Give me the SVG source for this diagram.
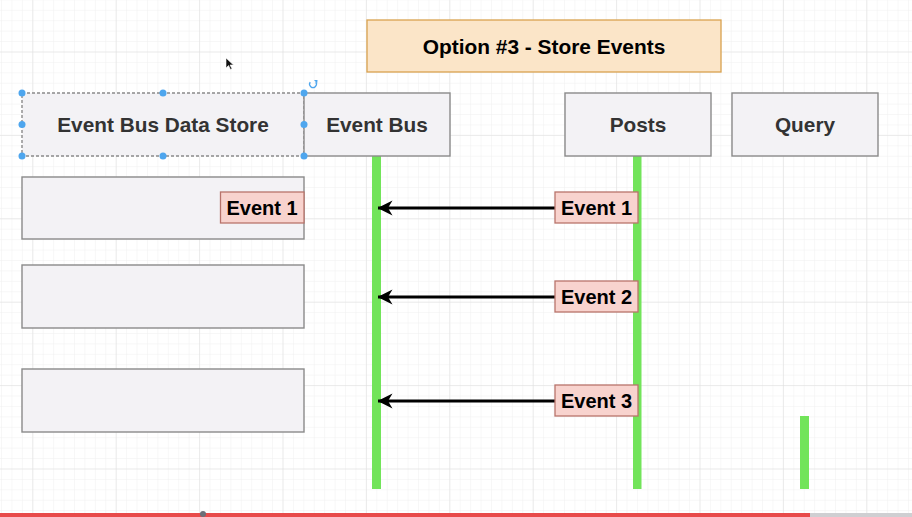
<svg xmlns="http://www.w3.org/2000/svg" width="912" height="517" viewBox="0 0 912 517">
  <defs>
    <pattern id="minor" x="32.3" y="51.5" width="10.425" height="10.425" patternUnits="userSpaceOnUse">
      <path d="M0 0V10.425M0 0H10.425" fill="none" stroke="#efefef" stroke-width="1"/>
    </pattern>
    <pattern id="major" x="32.3" y="51.5" width="83.4" height="83.4" patternUnits="userSpaceOnUse">
      <path d="M0 0V83.4M0 0H83.4" fill="none" stroke="#dedede" stroke-width="1"/>
    </pattern>
    <marker id="arrow" viewBox="0 0 15 16" refX="14.5" refY="8" markerWidth="15" markerHeight="16" markerUnits="userSpaceOnUse" orient="auto">
      <path d="M0 0.5 L15 8 L0 15.5 L4.5 8 Z" fill="#000"/>
    </marker>
    <style>
      .box { fill: #f3f2f5; stroke: #8a8a8a; stroke-width: 1.4; }
      .head { font-family: "Liberation Sans", Arial, sans-serif; font-weight: bold; font-size: 20.8px; fill: #333; text-anchor: middle; dominant-baseline: central; }
      .evt rect { fill: #f8d3ce; stroke: #b8736b; stroke-width: 1.3; }
      .evt text { font-family: "Liberation Sans", Arial, sans-serif; font-weight: bold; font-size: 20px; fill: #000; text-anchor: middle; dominant-baseline: central; }
      .life { fill: #72e45a; }
      .handle { fill: #4ea6ee; }
      .conn { stroke: #000; stroke-width: 3; fill: none; marker-end: url(#arrow); }
    </style>
  </defs>

  <rect width="912" height="517" fill="#ffffff"/>
  <rect width="912" height="517" fill="url(#minor)"/>
  <rect width="912" height="517" fill="url(#major)"/>

  <g id="title">
    <rect x="367" y="20" width="354" height="52" fill="#fbe5c8" stroke="#d9a24f" stroke-width="1.3"/>
    <text x="544" y="46" style="font-family:'Liberation Sans',Arial,sans-serif;font-weight:bold;font-size:20.9px;fill:#000;text-anchor:middle;dominant-baseline:central">Option #3 - Store Events</text>
  </g>

  <g id="lifelines">
    <rect class="life" x="372" y="156" width="9" height="333"/>
    <rect class="life" x="633" y="156" width="8.5" height="333"/>
    <rect class="life" x="800" y="416" width="9" height="73"/>
  </g>

  <g id="event-bus-data-store">
    <rect class="box" x="22" y="93" width="282" height="63" stroke-dasharray="3 2"/>
    <text class="head" x="163" y="124">Event Bus Data Store</text>
  </g>
  <g id="event-bus">
    <rect class="box" x="304" y="93" width="146" height="63"/>
    <text class="head" x="377" y="124">Event Bus</text>
  </g>
  <g id="posts">
    <rect class="box" x="565" y="93" width="146" height="63"/>
    <text class="head" x="638" y="124">Posts</text>
  </g>
  <g id="query">
    <rect class="box" x="732" y="93" width="146" height="63"/>
    <text class="head" x="805" y="124">Query</text>
  </g>

  <g id="store-row-1">
    <rect class="box" x="22" y="177" width="282" height="62"/>
  </g>
  <g id="store-row-2">
    <rect class="box" x="22" y="265" width="282" height="63"/>
  </g>
  <g id="store-row-3">
    <rect class="box" x="22" y="369" width="282" height="63"/>
  </g>

  <g id="connectors">
    <line class="conn" x1="555" y1="208" x2="378" y2="208"/>
    <line class="conn" x1="555" y1="297" x2="378" y2="297"/>
    <line class="conn" x1="555" y1="401" x2="378" y2="401"/>
  </g>

  <g id="stored-event-1" class="evt">
    <rect x="220.5" y="192" width="83.5" height="31"/>
    <text x="262" y="208">Event 1</text>
  </g>
  <g id="event-1" class="evt">
    <rect x="555" y="192" width="83" height="31"/>
    <text x="596.5" y="208">Event 1</text>
  </g>
  <g id="event-2" class="evt">
    <rect x="555" y="281" width="83" height="31"/>
    <text x="596.5" y="297">Event 2</text>
  </g>
  <g id="event-3" class="evt">
    <rect x="555" y="385" width="83" height="31"/>
    <text x="596.5" y="401">Event 3</text>
  </g>

  <g id="selection">
    <circle class="handle" cx="22" cy="93" r="3.5"/>
    <circle class="handle" cx="163" cy="93" r="3.5"/>
    <circle class="handle" cx="304" cy="93" r="3.5"/>
    <circle class="handle" cx="22" cy="124.5" r="3.5"/>
    <circle class="handle" cx="304" cy="124.5" r="3.5"/>
    <circle class="handle" cx="22" cy="156" r="3.5"/>
    <circle class="handle" cx="163" cy="156" r="3.5"/>
    <circle class="handle" cx="304" cy="156" r="3.5"/>
    <path d="M310.2 82.2 A3.4 3.4 0 1 0 315.8 82.2" fill="none" stroke="#4ea6ee" stroke-width="1.3"/>
    <path d="M314 80 L317.5 80 L317.2 83.5 Z" fill="#4ea6ee"/>
  </g>

  <path d="M226 58 L226 68 L228.5 65.5 L230.5 69.5 L232 68.8 L230 65 L233.5 65 Z" fill="#111" stroke="#fff" stroke-width="0.6"/>

  <rect x="0" y="513" width="810" height="4" fill="#e84a4a"/>
  <rect x="810" y="513" width="102" height="4" fill="#cfcfd2"/>
  <circle cx="203" cy="514" r="3" fill="#6b6f78"/>
</svg>
